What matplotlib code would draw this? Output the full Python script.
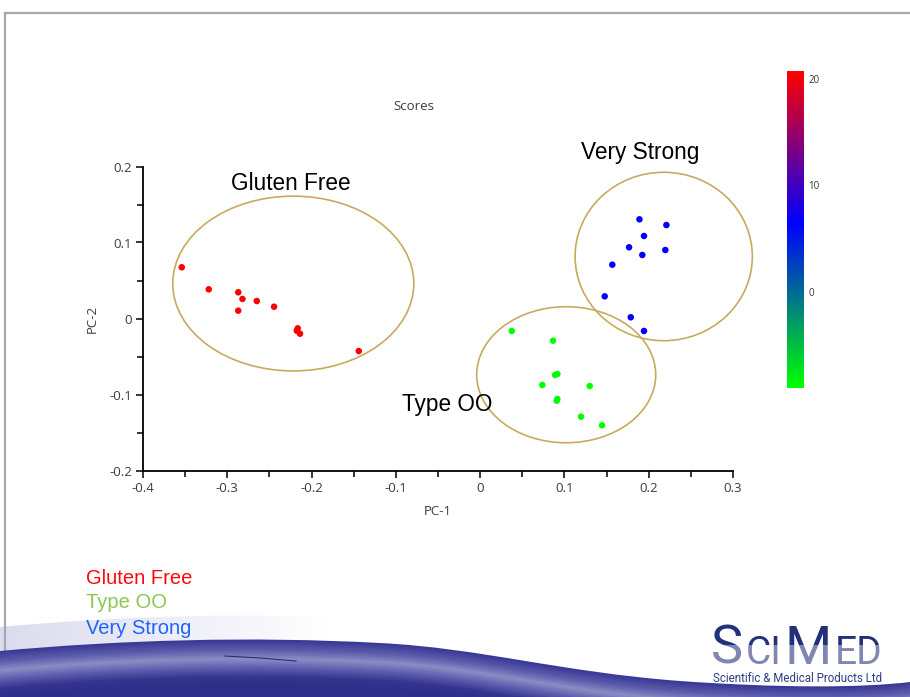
import matplotlib
matplotlib.use("Agg")
import matplotlib.pyplot as plt
import numpy as np
from matplotlib.colors import LinearSegmentedColormap
from matplotlib.patches import Ellipse, PathPatch, Rectangle
from matplotlib.path import Path
from matplotlib.transforms import Affine2D

plt.rcParams['font.family'] = ['Open Sans', 'DejaVu Sans']

# PCA scores
gluten_pc1 = [-0.354, -0.322, -0.287, -0.282, -0.287, -0.265, -0.2445, -0.2164, -0.2176, -0.2137, -0.144]
gluten_pc2 = [0.0674, 0.0384, 0.0345, 0.0257, 0.0103, 0.023, 0.0155, -0.0129, -0.016, -0.020, -0.0428]
typeoo_pc1 = [0.0375, 0.0865, 0.0889, 0.0916, 0.0738, 0.130, 0.0909, 0.0916, 0.1197, 0.1446]
typeoo_pc2 = [-0.0164, -0.0292, -0.0743, -0.0730, -0.0875, -0.0888, -0.1082, -0.1059, -0.1292, -0.1405]
strong_pc1 = [0.189, 0.221, 0.1944, 0.1767, 0.1924, 0.2197, 0.1568, 0.1478, 0.1787, 0.1944]
strong_pc2 = [0.1305, 0.123, 0.1086, 0.0937, 0.0836, 0.0901, 0.0708, 0.0292, 0.0016, -0.0164]

# colour value of each class on the colour scale
class_names = ['Gluten Free', 'Type OO', 'Very Strong']
class_value = [20.75, -9.04, 6.45]
scale_min, scale_max = -9.04, 20.75
scale_ticks = [0, 10, 20]

# circled groups: centre x, centre y, width, height
group_ellipses = [(-0.2217, 0.046, 0.286, 0.230),
                  (0.1021, -0.074, 0.2124, 0.179),
                  (0.2178, 0.0816, 0.2103, 0.2216)]
group_label_pos = [(-0.2243, 0.178), (-0.0387, -0.1138), (0.1897, 0.2178)]

legend_colors = ['#fa0a0a', '#8cc850', '#1e64fa']

W, H = 910, 697
fig = plt.figure(figsize=(W / 100, H / 100), dpi=100)
fig.patch.set_facecolor('white')

# ---- slide background (pixel coordinates) ----
bg = fig.add_axes([0, 0, 1, 1], zorder=-5)
bg.set_xlim(0, W)
bg.set_ylim(H, 0)
bg.axis('off')

bg.plot([5, W], [13, 13], color='#a8a8a8', lw=1.6)
bg.plot([5, 5], [13, H], color='#a8a8a8', lw=1.6)

verts = [(0, 651), (120, 640), (250, 636), (380, 643),
         (480, 648), (560, 672), (680, 681),
         (780, 688), (860, 688), (W, 682),
         (W, H + 60), (0, H + 60), (0, 651)]
codes = [Path.MOVETO] + [Path.CURVE4] * 9 + [Path.LINETO, Path.LINETO, Path.CLOSEPOLY]
band = Path(verts, codes)

# lavender glow over the left part of the band
glow_patch = PathPatch(band.transformed(Affine2D().translate(0, -24)), fc='none', ec='none')
bg.add_patch(glow_patch)
glow = np.zeros((10, 200, 4))
glow[..., 0] = 0.86
glow[..., 1] = 0.86
glow[..., 2] = 0.94
glow[..., 3] = np.clip(1 - np.linspace(0, 910, 200) / 330, 0, 1)[None, :]
im = bg.imshow(glow, extent=[0, W, H, 0], aspect='auto', zorder=1)
im.set_clip_path(glow_patch)

# dark blue wave with a light streak
shade = LinearSegmentedColormap.from_list('wave', ['#3a3a96', '#5a5aac', '#8c8cc4',
                                                   '#5c5cae', '#34348f', '#2e2e8a'])
for i, off in enumerate(range(0, 48, 2)):
    p = PathPatch(band.transformed(Affine2D().translate(0, off)),
                  fc=shade(i / 23), ec='none', zorder=2)
    bg.add_patch(p)
bg.plot([225, 260, 296], [656, 658, 661], color='#2c2c80', lw=0.8, zorder=3)

# ---- main scores plot ----
cmap = LinearSegmentedColormap.from_list('scores', [(0, '#00ff00'), (0.52, '#0000ff'), (1, '#ff0000')])

ax = fig.add_axes([143 / W, 1 - 470.5 / H, 590 / W, 304 / H])
ax.patch.set_visible(False)

groups = [(gluten_pc1, gluten_pc2), (typeoo_pc1, typeoo_pc2), (strong_pc1, strong_pc2)]
for (px, py), v in zip(groups, class_value):
    sc = ax.scatter(px, py, c=[v] * len(px), cmap=cmap, vmin=scale_min, vmax=scale_max,
                    s=22, linewidths=0, zorder=3)

for (cx, cy, ew, eh) in group_ellipses:
    ax.add_patch(Ellipse((cx, cy), ew, eh, fill=False, ec='#c8aa5e', lw=1.2, zorder=2,
                         clip_on=False))

for name, (lx, ly) in zip(class_names, group_label_pos):
    ax.text(lx, ly, name, ha='center', va='center', fontsize=16.3,
            family=['Liberation Sans', 'DejaVu Sans'], color='black', clip_on=False)

ax.set_xlim(-0.4, 0.3)
ax.set_ylim(-0.2, 0.2)
ax.set_xticks(np.arange(-0.4, 0.31, 0.1))
ax.set_xticklabels(['-0.4', '-0.3', '-0.2', '-0.1', '0', '0.1', '0.2', '0.3'])
ax.set_yticks(np.arange(-0.2, 0.21, 0.1))
ax.set_yticklabels(['-0.2', '-0.1', '0', '0.1', '0.2'])
ax.set_xticks(np.arange(-0.35, 0.3, 0.1), minor=True)
ax.set_yticks([-0.15, -0.05, 0.05, 0.15], minor=True)
ax.tick_params(which='major', length=5, width=1.1, labelsize=9.5, labelcolor='#3c3c3c', pad=3)
ax.tick_params(which='minor', length=4, width=1.1)
for s in ['top', 'right']:
    ax.spines[s].set_visible(False)
for s in ['left', 'bottom']:
    ax.spines[s].set_linewidth(1.3)

ax.set_xlabel('PC-1', fontsize=9.5, color='#3c3c3c')
ax.set_ylabel('PC-2', fontsize=9.5, color='#3c3c3c')
ax.xaxis.set_label_coords(0.5, -0.115)
ax.yaxis.set_label_coords(-0.075, 0.5)

fig.text(414 / W, 1 - 106 / H, 'Scores', ha='center', va='center', fontsize=9.5, color='#3c3c3c')

# colour scale
cax = fig.add_axes([787 / W, 1 - 388 / H, 17 / W, 317 / H])
cb = fig.colorbar(sc, cax=cax, ticks=scale_ticks)
cb.outline.set_visible(False)
cax.tick_params(length=0, labelsize=7, labelcolor='#333333', pad=3)

# colour key under the plot
for i, (name, col) in enumerate(zip(class_names, legend_colors)):
    fig.text(86 / W, 1 - (578 + 25 * i) / H, name, ha='left', va='center', fontsize=14.5,
             color=col, family=['Liberation Sans', 'DejaVu Sans'])

# logo: pieces set one after another, lower half lightened
renderer = fig.canvas.get_renderer()
logo_font = ['Roboto', 'DejaVu Sans']
pieces = [('S', 39, 3), ('CI', 28, 3), ('M', 39, 3), ('ED', 28, 0)]
x = 711
for txt, size, gap in pieces:
    t = fig.text(x / W, 1 - 664 / H, txt, ha='left', va='baseline', fontsize=size,
                 family=logo_font, color='#23307a')
    x = t.get_window_extent(renderer).x1 + gap
fig.add_artist(Rectangle((700 / W, 1 - 666 / H), 200 / W, 21 / H, transform=fig.transFigure,
                         fc='white', ec='none', alpha=0.42, zorder=5))
fig.text(798 / W, 1 - 678 / H, 'Scientific & Medical Products Ltd', ha='center', va='center',
         fontsize=8.3, family=logo_font, color='#2c3c86', zorder=6)

fig.savefig('out.png', dpi=100)
